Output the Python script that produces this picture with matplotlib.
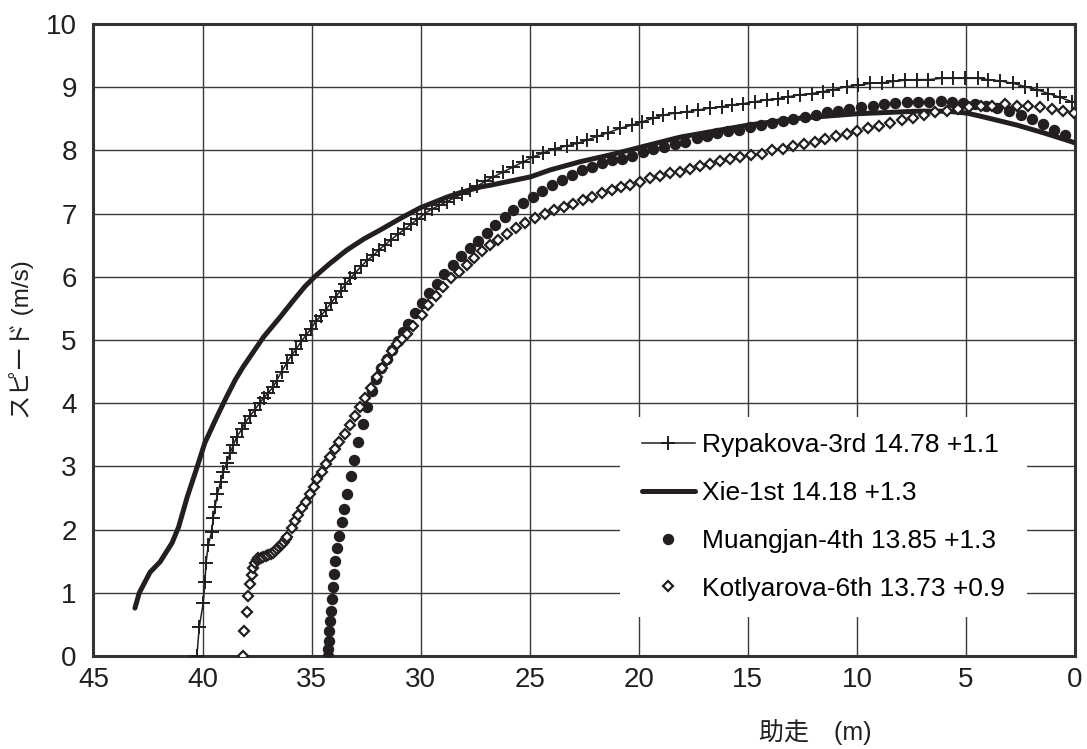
import matplotlib
matplotlib.use("Agg")
import matplotlib.pyplot as plt
from matplotlib.patches import Rectangle

plt.rcParams['font.family'] = ['Liberation Sans', 'Noto Sans CJK JP', 'DejaVu Sans']

INK = '#231f20'

# run-up distance to board (m) and speed (m/s)
ryp_dist = [40.26, 40.15, 39.97, 39.89, 39.84, 39.74, 39.58, 39.51, 39.43, 39.32,
            39.17, 39.05, 38.90, 38.74, 38.59, 38.43, 38.20, 38.05, 37.82, 37.60,
            37.37, 37.20, 36.98, 36.78, 36.60, 36.38, 36.15, 35.92, 35.70, 35.47,
            35.25, 35.02, 34.80, 34.57, 34.35, 34.12, 33.90, 33.67, 33.45, 33.22,
            33.00, 32.72, 32.45, 32.17, 31.90, 31.62, 31.35, 31.05, 30.75, 30.45,
            30.15, 29.82, 29.50, 29.15, 28.80, 28.45, 28.10, 27.75, 27.43, 27.05,
            26.67, 26.21, 25.75, 25.29, 24.83, 24.38, 23.84, 23.30, 22.84, 22.39,
            21.93, 21.40, 20.86, 20.32, 19.87, 19.33, 18.87, 18.34, 17.80, 17.27,
            16.73, 16.20, 15.74, 15.21, 14.67, 14.13, 13.60, 13.14, 12.60, 12.07,
            11.54, 11.08, 10.47, 9.93, 9.40, 8.86, 8.33, 7.79, 7.26, 6.72,
            6.11, 5.58, 5.04, 4.43, 3.97, 3.44, 2.83, 2.29, 1.76, 1.22,
            0.69, 0.15]
ryp_speed = [0.00, 0.46, 0.84, 1.18, 1.47, 1.75, 1.97, 2.18, 2.36, 2.56,
             2.76, 2.92, 3.05, 3.21, 3.34, 3.47, 3.59, 3.69, 3.80, 3.90,
             4.01, 4.08, 4.17, 4.25, 4.36, 4.50, 4.63, 4.76, 4.86, 4.98,
             5.08, 5.18, 5.30, 5.38, 5.48, 5.58, 5.68, 5.78, 5.88, 5.98,
             6.06, 6.17, 6.26, 6.34, 6.43, 6.51, 6.59, 6.67, 6.75, 6.83,
             6.91, 7.00, 7.07, 7.13, 7.19, 7.25, 7.31, 7.38, 7.43, 7.51,
             7.58, 7.66, 7.74, 7.82, 7.90, 7.96, 8.03, 8.07, 8.11, 8.16,
             8.22, 8.28, 8.35, 8.40, 8.45, 8.51, 8.56, 8.59, 8.61, 8.64,
             8.67, 8.69, 8.72, 8.74, 8.77, 8.80, 8.82, 8.85, 8.88, 8.90,
             8.93, 8.96, 9.01, 9.03, 9.06, 9.07, 9.09, 9.11, 9.12, 9.12,
             9.14, 9.14, 9.14, 9.14, 9.12, 9.10, 9.06, 9.01, 8.96, 8.90,
             8.84, 8.77]

xie_dist = [43.10, 42.90, 42.60, 42.40, 41.95, 41.40, 41.10, 40.70, 40.25, 39.90,
            39.35, 38.90, 38.50, 38.15, 37.20, 36.45, 35.85, 35.30, 34.80, 34.20,
            33.40, 32.60, 31.86, 30.90, 30.03, 28.80, 28.20, 27.28, 26.80, 24.98,
            24.07, 22.70, 21.30, 19.93, 18.10, 14.99, 12.60, 10.00, 7.24, 5.87,
            4.95, 4.20, 2.66, 1.46, 0.00]
xie_speed = [0.76, 1.00, 1.20, 1.33, 1.49, 1.79, 2.04, 2.52, 2.99, 3.37,
             3.78, 4.10, 4.37, 4.57, 5.05, 5.36, 5.62, 5.85, 6.02, 6.20,
             6.42, 6.60, 6.74, 6.93, 7.09, 7.26, 7.33, 7.42, 7.45, 7.58,
             7.69, 7.82, 7.93, 8.05, 8.21, 8.40, 8.51, 8.58, 8.62, 8.62,
             8.59, 8.53, 8.40, 8.28, 8.12]

mua_dist = [34.23, 34.23, 34.22, 34.20, 34.17, 34.12, 34.08, 34.03, 33.97, 33.91,
            33.82, 33.73, 33.62, 33.51, 33.36, 33.21, 33.06, 32.86, 32.66, 32.45,
            32.25, 32.05, 31.82, 31.55, 31.30, 31.05, 30.80, 30.57, 30.26, 29.95,
            29.60, 29.26, 28.92, 28.53, 28.15, 27.74, 27.36, 26.97, 26.59, 26.13,
            25.75, 25.29, 24.83, 24.45, 23.99, 23.53, 23.07, 22.62, 22.16, 21.70,
            21.24, 20.78, 20.32, 19.82, 19.33, 18.84, 18.34, 17.88, 17.34, 16.88,
            16.40, 15.89, 15.39, 14.90, 14.41, 13.90, 13.40, 12.91, 12.38, 11.87,
            11.35, 10.85, 10.35, 9.82, 9.27, 8.75, 8.25, 7.71, 7.18, 6.68,
            6.16, 5.62, 5.12, 4.58, 4.08, 3.56, 3.01, 2.49, 1.96, 1.45,
            0.96, 0.46]
mua_speed = [0.00, 0.11, 0.24, 0.40, 0.55, 0.72, 0.90, 1.10, 1.30, 1.50,
             1.71, 1.90, 2.12, 2.33, 2.57, 2.85, 3.10, 3.38, 3.67, 3.94,
             4.20, 4.38, 4.55, 4.70, 4.85, 4.98, 5.12, 5.26, 5.42, 5.58,
             5.74, 5.89, 6.04, 6.19, 6.33, 6.46, 6.57, 6.70, 6.82, 6.95,
             7.06, 7.17, 7.27, 7.35, 7.45, 7.53, 7.61, 7.69, 7.74, 7.80,
             7.85, 7.87, 7.91, 7.98, 8.02, 8.06, 8.10, 8.14, 8.19, 8.23,
             8.27, 8.30, 8.33, 8.37, 8.40, 8.43, 8.47, 8.50, 8.53, 8.56,
             8.60, 8.63, 8.65, 8.68, 8.70, 8.73, 8.75, 8.77, 8.77, 8.77,
             8.78, 8.77, 8.75, 8.73, 8.70, 8.67, 8.62, 8.56, 8.49, 8.42,
             8.33, 8.24]

kot_dist = [38.13, 38.09, 37.98, 37.90, 37.82, 37.75, 37.67, 37.60, 37.52, 37.44,
            37.33, 37.21, 37.10, 36.98, 36.88, 36.78, 36.69, 36.60, 36.51, 36.42,
            36.34, 36.27, 36.19, 36.11, 35.91, 35.76, 35.61, 35.45, 35.26, 35.07,
            34.89, 34.74, 34.54, 34.34, 34.16, 33.93, 33.73, 33.47, 33.24, 33.00,
            32.78, 32.55, 32.30, 32.02, 31.78, 31.55, 31.30, 31.08, 30.86, 30.64,
            30.34, 29.95, 29.65, 29.30, 28.96, 28.62, 28.24, 27.89, 27.55, 27.20,
            26.82, 26.44, 26.05, 25.63, 25.22, 24.76, 24.30, 23.87, 23.43, 23.00,
            22.57, 22.16, 21.70, 21.24, 20.81, 20.40, 19.94, 19.48, 19.02, 18.57,
            18.10, 17.65, 17.19, 16.73, 16.27, 15.81, 15.36, 14.87, 14.36, 13.90,
            13.40, 12.91, 12.42, 11.92, 11.46, 10.96, 10.47, 9.98, 9.47, 8.97,
            8.48, 7.94, 7.44, 6.92, 6.42, 5.88, 5.35, 4.84, 4.32, 3.79,
            3.22, 2.67, 2.14, 1.60, 1.07, 0.56, 0.07]
kot_speed = [0.00, 0.40, 0.70, 0.95, 1.14, 1.28, 1.39, 1.47, 1.52, 1.55,
             1.56, 1.57, 1.58, 1.60, 1.61, 1.63, 1.66, 1.69, 1.72, 1.75,
             1.78, 1.81, 1.85, 1.89, 2.02, 2.13, 2.23, 2.34, 2.44, 2.56,
             2.68, 2.80, 2.92, 3.04, 3.15, 3.27, 3.39, 3.52, 3.66, 3.80,
             3.94, 4.08, 4.24, 4.42, 4.56, 4.69, 4.82, 4.93, 5.01, 5.09,
             5.22, 5.40, 5.55, 5.70, 5.84, 5.98, 6.08, 6.19, 6.29, 6.41,
             6.50, 6.59, 6.68, 6.77, 6.85, 6.93, 6.99, 7.06, 7.11, 7.16,
             7.22, 7.27, 7.32, 7.37, 7.42, 7.45, 7.50, 7.56, 7.59, 7.64,
             7.66, 7.71, 7.75, 7.79, 7.84, 7.87, 7.90, 7.93, 7.95, 8.00,
             8.03, 8.07, 8.10, 8.14, 8.18, 8.22, 8.26, 8.30, 8.35, 8.39,
             8.44, 8.48, 8.52, 8.56, 8.60, 8.63, 8.65, 8.68, 8.70, 8.71,
             8.73, 8.71, 8.70, 8.68, 8.65, 8.63, 8.59]

labels = ['Rypakova-3rd 14.78 +1.1', 'Xie-1st 14.18 +1.3',
          'Muangjan-4th 13.85 +1.3', 'Kotlyarova-6th 13.73 +0.9']

fig = plt.figure(figsize=(10.87, 7.49), dpi=100)
ax = fig.add_axes([0.086, 0.124, 0.903, 0.844])

ax.plot(ryp_dist, ryp_speed, color=INK, lw=1.1, marker='+', ms=10, mew=1.4,
        label=labels[0], zorder=3)
ax.plot(xie_dist, xie_speed, color=INK, lw=3.6, solid_capstyle='round',
        label=labels[1], zorder=4)
ax.plot(mua_dist, mua_speed, ls='none', marker='o', ms=7.2, color=INK,
        label=labels[2], zorder=5)
ax.plot(kot_dist, kot_speed, ls='none', marker='D', ms=5, mew=1.6,
        mfc='white', mec=INK, label=labels[3], zorder=6)

ax.set_xlim(45, 0)
ax.set_ylim(0, 10)
ax.set_xticks(range(45, -1, -5))
ax.set_yticks(range(0, 11))
ax.grid(True, color='#3a3a3a', lw=1.0)
ax.set_axisbelow(True)
for s in ax.spines.values():
    s.set_color('#333333')
    s.set_linewidth(2.2)
ax.tick_params(length=0, labelsize=20, colors=INK)
ax.tick_params(axis='y', pad=12)
ax.tick_params(axis='x', pad=8)

ax.set_ylabel('スピード (m/s)', fontsize=17.5, color=INK)
ax.yaxis.set_label_coords(-0.061, 0.5)
ax.set_xlabel('助走\u3000(m)', fontsize=18, color=INK)
ax.xaxis.set_label_coords(0.735, -0.1)

# white patch behind the legend, hiding the grid there
ax.add_patch(Rectangle((0.5364, 0.0617), 0.4147, 0.3165, transform=ax.transAxes,
                       facecolor='white', edgecolor='none', zorder=2))

leg = ax.legend(loc='center', bbox_to_anchor=(0.7438, 0.22), fontsize=19,
                numpoints=1, handlelength=2.0, handletextpad=0.3,
                labelspacing=0.9, borderpad=0.3, frameon=False)
leg.set_zorder(10)

fig.savefig('out.png', dpi=100)
